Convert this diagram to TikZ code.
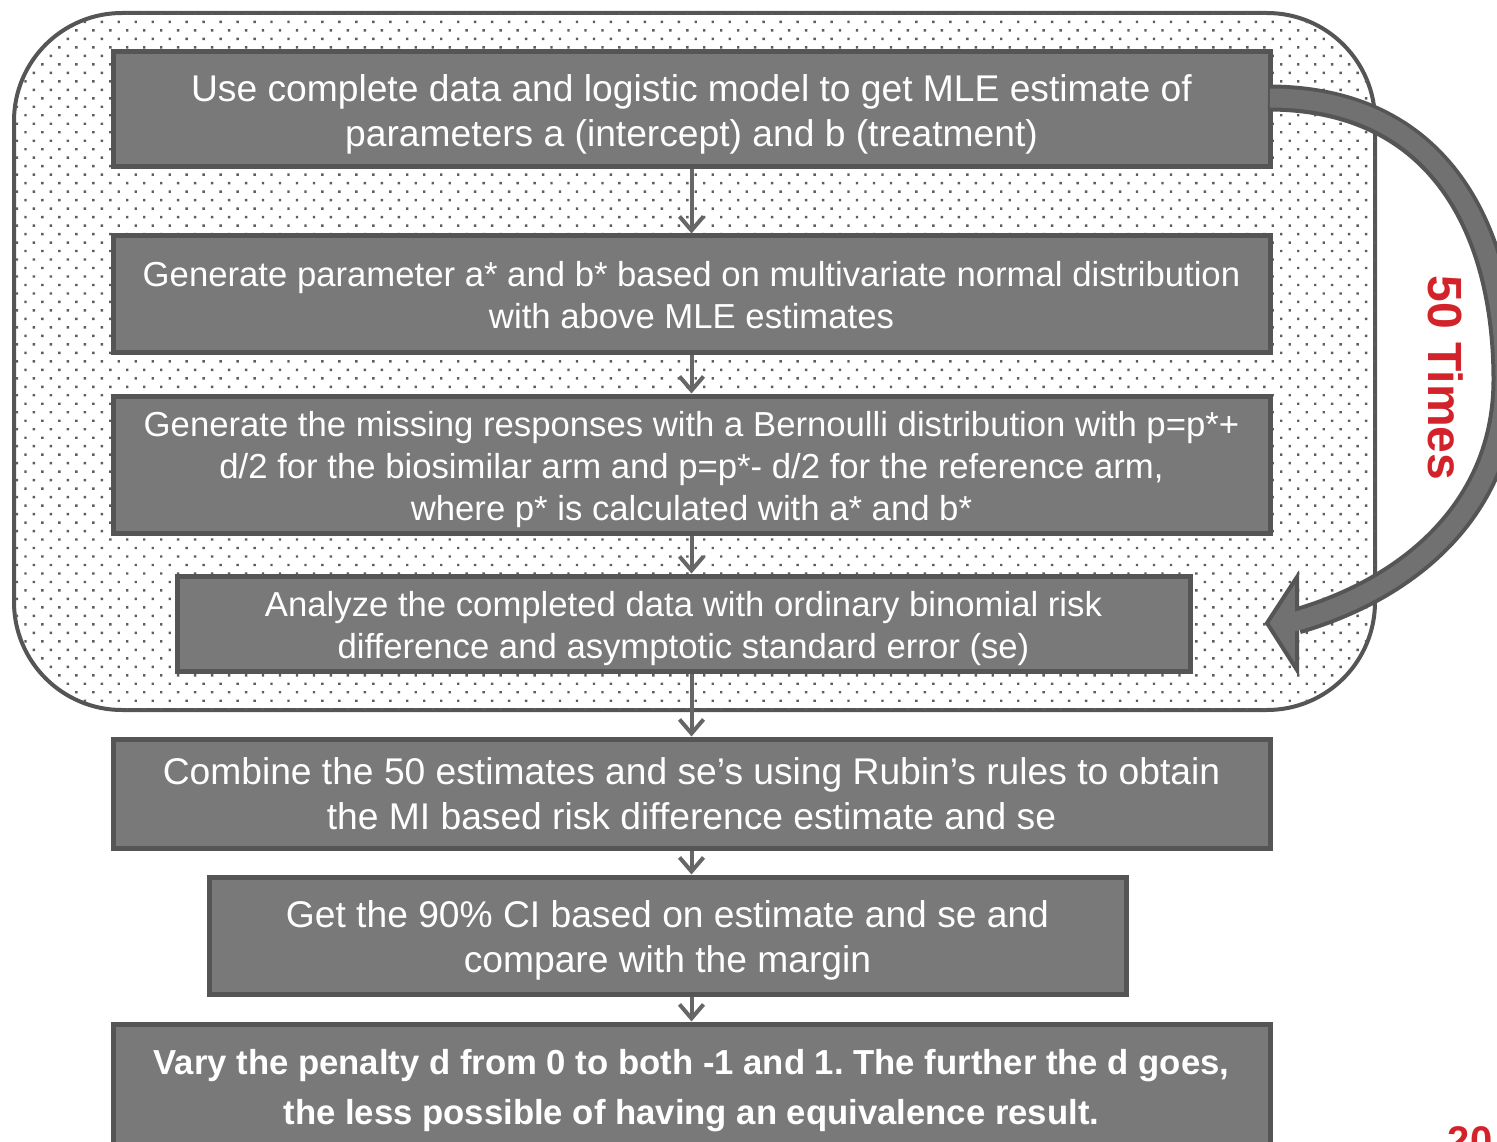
\documentclass[tikz,border=0pt]{standalone}
\usepackage{fontspec}
\setmainfont{Liberation Sans}
\frenchspacing
\usetikzlibrary{arrows.meta,patterns.meta,calc}
\definecolor{cborder}{HTML}{555555}
\definecolor{cfill}{HTML}{797979}
\definecolor{carrow}{HTML}{666666}
\definecolor{cband}{HTML}{717171}
\definecolor{cred}{HTML}{D2232A}
\definecolor{cpat}{HTML}{5E5E5E}
\tikzset{
  box/.style={draw=cborder, line width=5pt, fill=cfill, inner sep=0pt},
  txt/.style={text=white, align=center, inner sep=0pt},
  bigtxt/.style={txt, font=\fontsize{37.2}{44.6}\selectfont},
  midtxt/.style={txt, font=\fontsize{34.7}{42}\selectfont},
  boldtxt/.style={txt, font=\fontsize{34.7}{50}\selectfont\bfseries},
  flow/.style={draw=carrow, line width=4pt, -{Straight Barb[length=14pt,width=24pt]}},
}
\begin{document}
\begin{tikzpicture}[x=1pt,y=-1pt]
\useasboundingbox (0,0) rectangle (1497,1142);
\clip (0,0) rectangle (1497,1142);
% outer loop region
\draw[draw=cborder, line width=4pt, fill=white, rounded corners=108pt,
      postaction={pattern={Dots[distance=12pt,angle=45,radius=1.7pt]}, pattern color=cpat}]
  (14,13) rectangle (1375,710);
% boxes
\node[box, minimum width=1157pt, minimum height=115pt] (b1) at (691.5,109.5) {};
\node[box, minimum width=1157pt, minimum height=116pt] (b2) at (691.5,294) {};
\node[box, minimum width=1157pt, minimum height=137pt] (b3) at (691.5,464.5) {};
\node[box, minimum width=1013pt, minimum height=95pt] (b4) at (683.5,623.5) {};
\node[box, minimum width=1157pt, minimum height=109pt] (b5) at (691.5,793.5) {};
\node[box, minimum width=917pt, minimum height=117pt] (b6) at (667.5,935.5) {};
\node[box, minimum width=1157pt, minimum height=126pt] (b7) at (691.5,1087) {};
% texts
\node[bigtxt] (t1) at ($(b1.center)+(0,5)$)
  {Use complete data and logistic model to get MLE estimate of\\parameters a (intercept) and b (treatment)};
\node[midtxt] (t2) at ($(b2.center)+(0,1)$)
  {Generate parameter a* and b* based on multivariate normal distribution\\with above MLE estimates};
\node[midtxt] (t3) at ($(b3.center)+(0,5)$)
  {Generate the missing responses with a Bernoulli distribution with p=p*+\\d/2 for the biosimilar arm and p=p*- d/2 for the reference arm,\\where p* is calculated with a* and b*};
\node[midtxt] (t4) at ($(b4.center)+(0,5)$)
  {Analyze the completed data with ordinary binomial risk\\difference and asymptotic standard error (se)};
\node[bigtxt] (t5) at ($(b5.center)+(0,0)$)
  {Combine the 50 estimates and se’s using Rubin’s rules to obtain\\the MI based risk difference estimate and se};
\node[bigtxt] (t6) at ($(b6.center)+(0,5)$)
  {Get the 90\% CI based on estimate and se and\\compare with the margin};
\node[boldtxt] (t7) at ($(b7.center)+(0,4)$)
  {Vary the penalty d from 0 to both -1 and 1. The further the d goes,\\the less possible of having an equivalence result.};
% vertical connectors
\draw[flow] (b1.south) -- (b2.north);
\draw[flow] (b2.south) -- (b3.north);
\draw[flow] (b3.south) -- (b4.north -| b3.south);
\draw[flow] (b4.south -| b1.south) -- (b5.north);
\draw[flow] (b5.south) -- (b6.north -| b5.south);
\draw[flow] (b6.south -| b7.north) -- (b7.north);
% loop-back curved arrow
\coordinate (ls) at (1268,98);
\coordinate (lm) at (1505,380);
\coordinate (le) at (1297,621);
\coordinate (li) at (1284,624);
\draw[draw=cborder, line width=27pt] (ls) .. controls (1440,98) and (1505,230) .. (lm)
  .. controls (1505,500) and (1420,585) .. (le);
\draw[draw=cborder, line width=4pt, fill=cband, line join=miter]
  (1297,577) -- (1267,623) -- (1297,670) -- cycle;
\draw[draw=cband, line width=19pt] (1270,98) .. controls (1440,98) and (1505,230) .. (lm)
  .. controls (1505,500) and (1420,585) .. (le) -- (li);
\node[text=cred, font=\fontsize{48}{48}\selectfont\bfseries, rotate=-90] (times) at (1446,378) {50 Times};
\node[text=cred, font=\fontsize{40}{40}\selectfont\bfseries, anchor=base] (pg) at (1470,1154) {20};
\end{tikzpicture}
\end{document}
